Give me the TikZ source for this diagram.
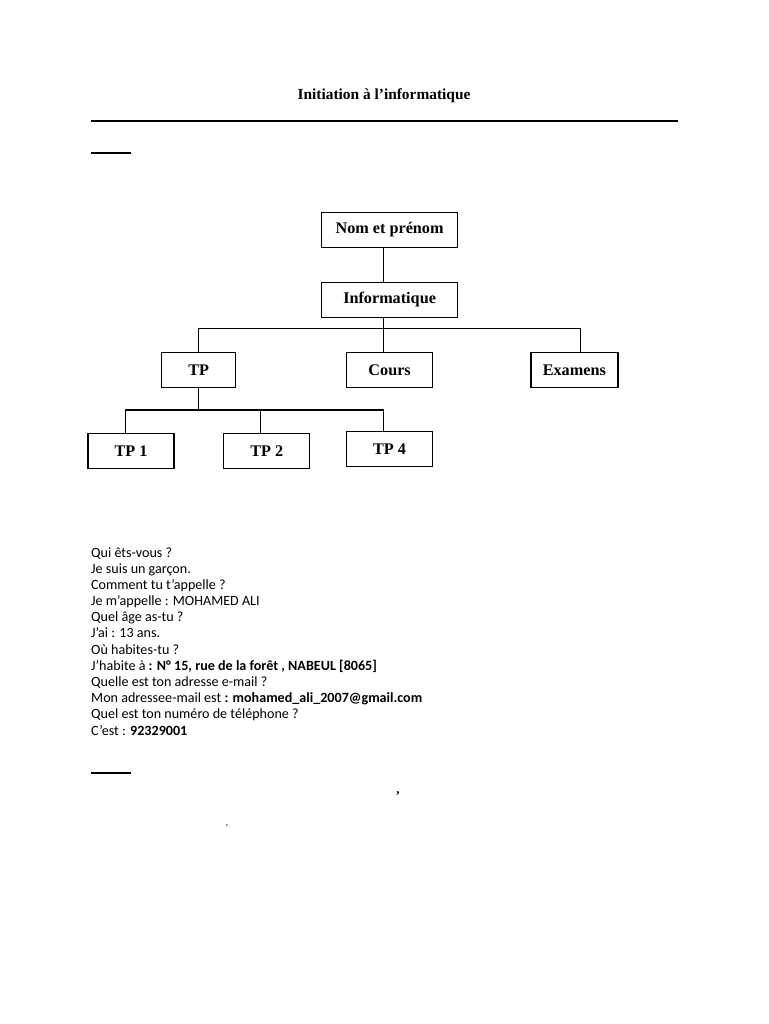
\documentclass[tikz,border=0pt]{standalone}
\usepackage{fontspec}
\setmainfont{Liberation Serif}
\newfontfamily\bodyfont{Carlito}

\tikzset{
  box/.style={draw, line width=1.5pt, minimum height=35pt, inner sep=0pt,
    font=\fontsize{16.2}{18}\selectfont\bfseries},
  link/.style={line width=1.2pt},
  txtline/.style={anchor=base west, inner sep=0pt,
    font=\bodyfont\fontsize{14.1}{16}\selectfont},
}

\begin{document}
\begin{tikzpicture}[x=1pt, y=-1pt]

\useasboundingbox (0,0) rectangle (768,1024);

% header
\node[font=\fontsize{15.4}{17}\selectfont\bfseries, anchor=base] (title) at (384,100) {Initiation à l’informatique};
\draw[line width=1.2pt] (91,121) -- (678,121);
\draw[line width=1.8pt] (91,153) -- (131,153);

% tree
\node[box, minimum width=136pt] (nom) at (389.6,230) {Nom et prénom};
\node[box, minimum width=136pt] (info) at (389.6,300) {Informatique};

\node[box, minimum width=74pt] (tp) at (198.7,370) {TP};
\node[box, minimum width=86pt] (cours) at (389.6,370) {Cours};
\node[box, minimum width=87pt] (exam) at (574.3,370) {Examens};

\node[box, minimum width=86pt] (tp1) at (131,451) {TP 1};
\node[box, minimum width=86pt] (tp2) at (266.7,451) {TP 2};
\node[box, minimum width=86pt] (tp4) at (389.6,449) {TP 4};

\coordinate (bar) at (383.6,328.3);
\coordinate (sub) at (198.7,410);

\draw[link] ([xshift=-6pt]nom.south) -- ([xshift=-6pt]info.north);
\draw[link] ([xshift=-6pt]info.south) -- (bar);
\draw[link] (tp.north) |- (bar) -| ([xshift=6pt]exam.north);
\draw[link] (bar) -- ([xshift=-6pt]cours.north);

\draw[link] (tp.south) -- (sub);
\draw[link] ([xshift=-5.5pt]tp1.north) |- (sub) -| ([xshift=-6pt]tp4.north);
\draw[link] ([xshift=-6.4pt]tp2.north) -- ++(0,-23.5);

% questions
\node[txtline] (l1) at (91,557) {Qui êts-vous ?};
\node[txtline] (l2) at (91,573.2) {Je suis un garçon.};
\node[txtline] (l3) at (91,589.4) {Comment tu t’appelle ?};
\node[txtline] (l4) at (91,605.5) {Je m’appelle : MOHAMED ALI};
\node[txtline] (l5) at (91,621.7) {Quel âge as-tu ?};
\node[txtline] (l6) at (91,637.9) {J’ai : 13 ans.};
\node[txtline] (l7) at (91,654.1) {Où habites-tu ?};
\node[txtline] (l8) at (91,670.3) {J’habite à \textbf{: N° 15, rue de la forêt , NABEUL [8065]}};
\node[txtline] (l9) at (91,686.4) {Quelle est ton adresse e-mail ?};
\node[txtline] (l10) at (91,702.6) {Mon adressee-mail est \textbf{: mohamed\_ali\_2007@gmail.com}};
\node[txtline] (l11) at (91,718.8) {Quel est ton numéro de téléphone ?};
\node[txtline] (l12) at (91,735) {C’est : \textbf{92329001}};

% footer
\draw[line width=1.8pt] (91,773) -- (131,773);
\node[font=\fontsize{13}{15}\selectfont\bfseries] (c1) at (398,794) {,};
\node[font=\fontsize{9}{10}\selectfont] (c2) at (227,826) {,};

\end{tikzpicture}
\end{document}
